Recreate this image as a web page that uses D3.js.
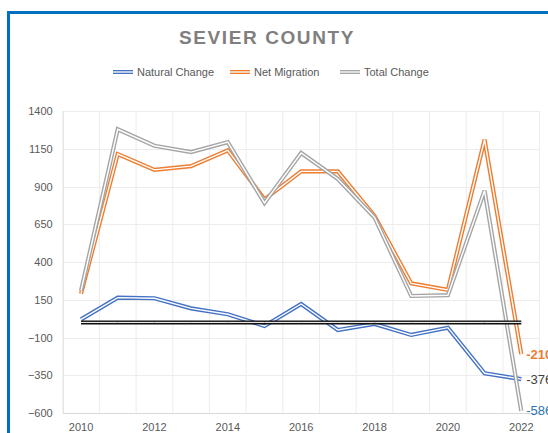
<!DOCTYPE html>
<html>
<head>
<meta charset="utf-8">
<script src="https://cdn.jsdelivr.net/npm/d3@7"></script>
<style>
  body { margin: 0; background: #fff; }
  svg text { font-family: "Liberation Sans", Arial, sans-serif; }
</style>
</head>
<body>
<div id="chart"></div>
<script>
// ----------------------------------------------------------------------

var years = [2010, 2011, 2012, 2013, 2014, 2015, 2016, 2017, 2018, 2019, 2020, 2021, 2022];
var naturalChange = [20, 164, 160, 93, 54, -24, 122, -50, -10, -83, -35, -337, -376];
var netMigration = [190, 1115, 1010, 1035, 1140, 815, 1000, 1000, 705, 258, 215, 1210, -210];
var totalChange = [210, 1279, 1170, 1128, 1194, 791, 1122, 950, 695, 175, 180, 873, -586];
var zeroLine = [0, 0, 0, 0, 0, 0, 0, 0, 0, 0, 0, 0, 0];
var yTicks = [-600, -350, -100, 150, 400, 650, 900, 1150, 1400];
var xTickYears = [2010, 2012, 2014, 2016, 2018, 2020, 2022];

var seriesNames = ["Natural Change", "Net Migration", "Total Change"];
var seriesColors = ["#4472c4", "#ed7d31", "#a5a5a5"];

// ----------------------------------------------------------------------

var width = 548, height = 433;
var plot = {left: 62.7, right: 539.6, top: 111, bottom: 413};

var svg = d3.select("#chart")
            .append("svg")
            .attr("width", width)
            .attr("height", height);

// frame
svg.append("rect")
   .attr("x", 8.5).attr("y", 12.5)
   .attr("width", 700).attr("height", 600)
   .attr("fill", "none")
   .attr("stroke", "#0070c0")
   .attr("stroke-width", 3);

var x = d3.scaleBand()
          .domain(years)
          .range([plot.left, plot.right]);

var y = d3.scaleLinear()
          .domain([-600, 1400])
          .range([plot.bottom, plot.top]);

function cx(yr) { return x(yr) + x.bandwidth() / 2; }

// gridlines
svg.append("g").selectAll("line")
   .data(yTicks.slice(1))
   .enter().append("line")
   .attr("x1", plot.left).attr("x2", plot.right)
   .attr("y1", function(d) { return Math.round(y(d)) + 0.5; })
   .attr("y2", function(d) { return Math.round(y(d)) + 0.5; })
   .attr("stroke", "#ececec");

svg.append("g").selectAll("line")
   .data(years.slice(1).concat(["end"]))
   .enter().append("line")
   .attr("x1", function(d) { return d === "end" ? plot.right : x(d); })
   .attr("x2", function(d) { return d === "end" ? plot.right : x(d); })
   .attr("y1", plot.top).attr("y2", plot.bottom)
   .attr("stroke", "#ececec");

// axes
var yAxis = d3.axisLeft(y).tickValues(yTicks).tickFormat(d3.format("d")).tickSize(0).tickPadding(10);
var gy = svg.append("g")
            .attr("transform", "translate(" + plot.left + ",0)")
            .call(yAxis);
gy.select(".domain").attr("stroke", "#d9d9d9");
gy.selectAll("text").attr("fill", "#595959").style("font-size", "11px");

var xAxis = d3.axisBottom(x).tickValues(xTickYears).tickSize(0).tickPadding(10);
var gx = svg.append("g")
            .attr("transform", "translate(0," + plot.bottom + ")")
            .call(xAxis);
gx.select(".domain").attr("stroke", "#d9d9d9");
gx.selectAll("text").attr("fill", "#595959").style("font-size", "11px");

// double-line series
var line = d3.line()
             .x(function(d, i) { return cx(years[i]); })
             .y(function(d) { return y(d); });

function drawDouble(values, color, outer, inner) {
    var g = svg.append("g");
    g.append("path")
     .attr("d", line(values))
     .attr("fill", "none")
     .attr("stroke", color)
     .attr("stroke-width", outer)
     .attr("stroke-linejoin", "miter");
    g.append("path")
     .attr("d", line(values))
     .attr("fill", "none")
     .attr("stroke", "#fff")
     .attr("stroke-width", inner)
     .attr("stroke-linejoin", "miter");
}

var allSeries = [naturalChange, netMigration, totalChange];
allSeries.forEach(function(s, i) {
    drawDouble(s, seriesColors[i], 4.2, 1.4);
});
drawDouble(zeroLine, "#111", 4, 1);

// end labels (cut by the right edge, as in the original)
var last = years.length - 1;
var endLabels = [
    {v: netMigration[last], color: "#ed7d31", weight: "bold"},
    {v: naturalChange[last], color: "#404040", weight: "normal"},
    {v: totalChange[last], color: "#2e75b6", weight: "normal"}
];
svg.append("g").selectAll("text")
   .data(endLabels)
   .enter().append("text")
   .attr("x", cx(years[last]) + 5)
   .attr("y", function(d) { return y(d.v); })
   .attr("dy", "0.35em")
   .attr("fill", function(d) { return d.color; })
   .style("font-weight", function(d) { return d.weight; })
   .style("font-size", "13px")
   .text(function(d) { return d.v; });

// title
svg.append("text")
   .attr("x", 267).attr("y", 44)
   .attr("text-anchor", "middle")
   .attr("fill", "#7f7f7f")
   .style("font-size", "19px")
   .style("font-weight", "bold")
   .style("letter-spacing", "1.6px")
   .text("SEVIER COUNTY");

// legend
var legendX = [113, 230, 340];
var lg = svg.append("g").selectAll("g")
            .data(seriesNames)
            .enter().append("g")
            .attr("transform", function(d, i) { return "translate(" + legendX[i] + ",72)"; });
lg.append("line")
  .attr("x1", 0).attr("x2", 20).attr("y1", 0).attr("y2", 0)
  .attr("stroke", function(d, i) { return seriesColors[i]; })
  .attr("stroke-width", 4);
lg.append("line")
  .attr("x1", 0).attr("x2", 20).attr("y1", 0).attr("y2", 0)
  .attr("stroke", "#fff")
  .attr("stroke-width", 1.3);
lg.append("text")
  .attr("x", 24).attr("y", 0).attr("dy", "0.35em")
  .attr("fill", "#595959")
  .style("font-size", "11px")
  .text(function(d) { return d; });

// ----------------------------------------------------------------------
</script>
</body>
</html>
